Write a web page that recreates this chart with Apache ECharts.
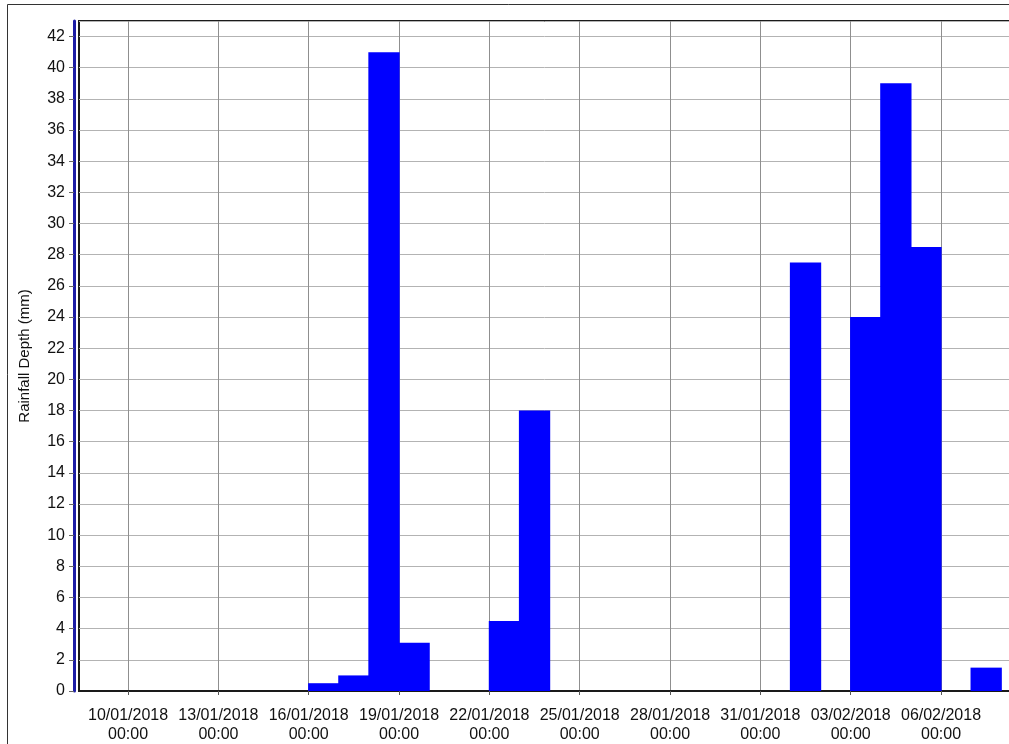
<!DOCTYPE html>
<html lang="en" style="height: 100%">
<head>
<meta charset="utf-8">
<title>Rainfall Depth</title>
</head>
<body style="height: 100%; margin: 0; background: #fff">
<div id="container" style="width: 1009px; height: 744px"></div>

<script type="text/javascript" src="https://cdn.jsdelivr.net/npm/echarts@6/dist/echarts.min.js"></script>

<script type="text/javascript">

// daily rainfall (bar covers the whole day)
const rainDays = ['2018-01-16', '2018-01-17', '2018-01-18', '2018-01-19', '2018-01-22', '2018-01-23',
    '2018-02-01', '2018-02-03', '2018-02-04', '2018-02-05', '2018-02-07'];
const rainDepth = [0.5, 1.0, 41, 3.1, 4.5, 18, 27.5, 24, 39, 28.5, 1.5];

// x axis ticks every 3 days
const tickDays = ['2018-01-10', '2018-01-13', '2018-01-16', '2018-01-19', '2018-01-22',
    '2018-01-25', '2018-01-28', '2018-01-31', '2018-02-03', '2018-02-06'];
const tickLabels = ['10/01/2018\n00:00', '13/01/2018\n00:00', '16/01/2018\n00:00', '19/01/2018\n00:00',
    '22/01/2018\n00:00', '25/01/2018\n00:00', '28/01/2018\n00:00', '31/01/2018\n00:00',
    '03/02/2018\n00:00', '06/02/2018\n00:00'];

const DAY = 86400000;
function dayMs(s) {
    const p = s.split('-');
    return Date.UTC(+p[0], +p[1] - 1, +p[2]);
}

const tickValues = tickDays.map(dayMs);
const labelOf = {};
tickValues.forEach(function (v, i) { labelOf[v] = tickLabels[i]; });

const barData = rainDays.map(function (d, i) {
    return [dayMs(d) + DAY / 2, rainDepth[i]];
});

const font = 'Liberation Sans, Arial, sans-serif';

var dom = document.getElementById('container');
var myChart = echarts.init(dom, null, { renderer: 'canvas' });

var option = {
    backgroundColor: '#ffffff',
    animation: false,
    graphic: [{
        type: 'rect',
        shape: { x: 7.5, y: 4.5, width: 1020, height: 780 },
        style: { fill: 'none', stroke: '#333', lineWidth: 1 },
        silent: true,
        z: -1
    }],
    grid: {
        left: 79,
        right: -10,
        top: 21,
        bottom: 53,
        outerBoundsMode: 'none',
        containLabel: false,
        show: true,
        borderColor: '#1a1a1a',
        borderWidth: 2,
        backgroundColor: 'transparent'
    },
    xAxis: {
        type: 'value',
        min: dayMs('2018-01-10') - 1.63 * DAY,
        max: dayMs('2018-02-06') + 2.59 * DAY,
        axisLine: { show: true, onZero: false, lineStyle: { color: '#1a1a1a', width: 2 } },
        axisTick: {
            show: true,
            customValues: tickValues,
            length: 4,
            lineStyle: { color: '#555' }
        },
        axisLabel: {
            customValues: tickValues,
            formatter: function (v) { return labelOf[v] || ''; },
            color: '#111',
            fontFamily: font,
            fontSize: 16,
            lineHeight: 19,
            margin: 15
        },
        splitLine: { show: true, lineStyle: { color: '#8f8f8f', width: 1 } }
    },
    yAxis: {
        type: 'value',
        min: 0,
        max: 43,
        interval: 2,
        offset: 5,
        name: 'Rainfall Depth (mm)',
        nameLocation: 'middle',
        nameGap: 42,
        nameTextStyle: { color: '#111', fontFamily: font, fontSize: 15 },
        axisLine: { show: true, lineStyle: { color: '#1c1ca6', width: 3 } },
        axisTick: { show: true, length: 5, lineStyle: { color: '#666' } },
        axisLabel: {
            showMaxLabel: false,
            color: '#111',
            fontFamily: font,
            fontSize: 16,
            margin: 9
        },
        splitLine: { show: true, lineStyle: { color: '#b3b3b3', width: 1 } }
    },
    series: [{
        name: 'Rainfall Depth',
        type: 'bar',
        data: barData,
        barWidth: '104%',
        itemStyle: { color: '#0000ff' }
    }]
};

if (option && typeof option === 'object') {
    myChart.setOption(option);
}

window.addEventListener('resize', myChart.resize);
</script>
</body>
</html>
